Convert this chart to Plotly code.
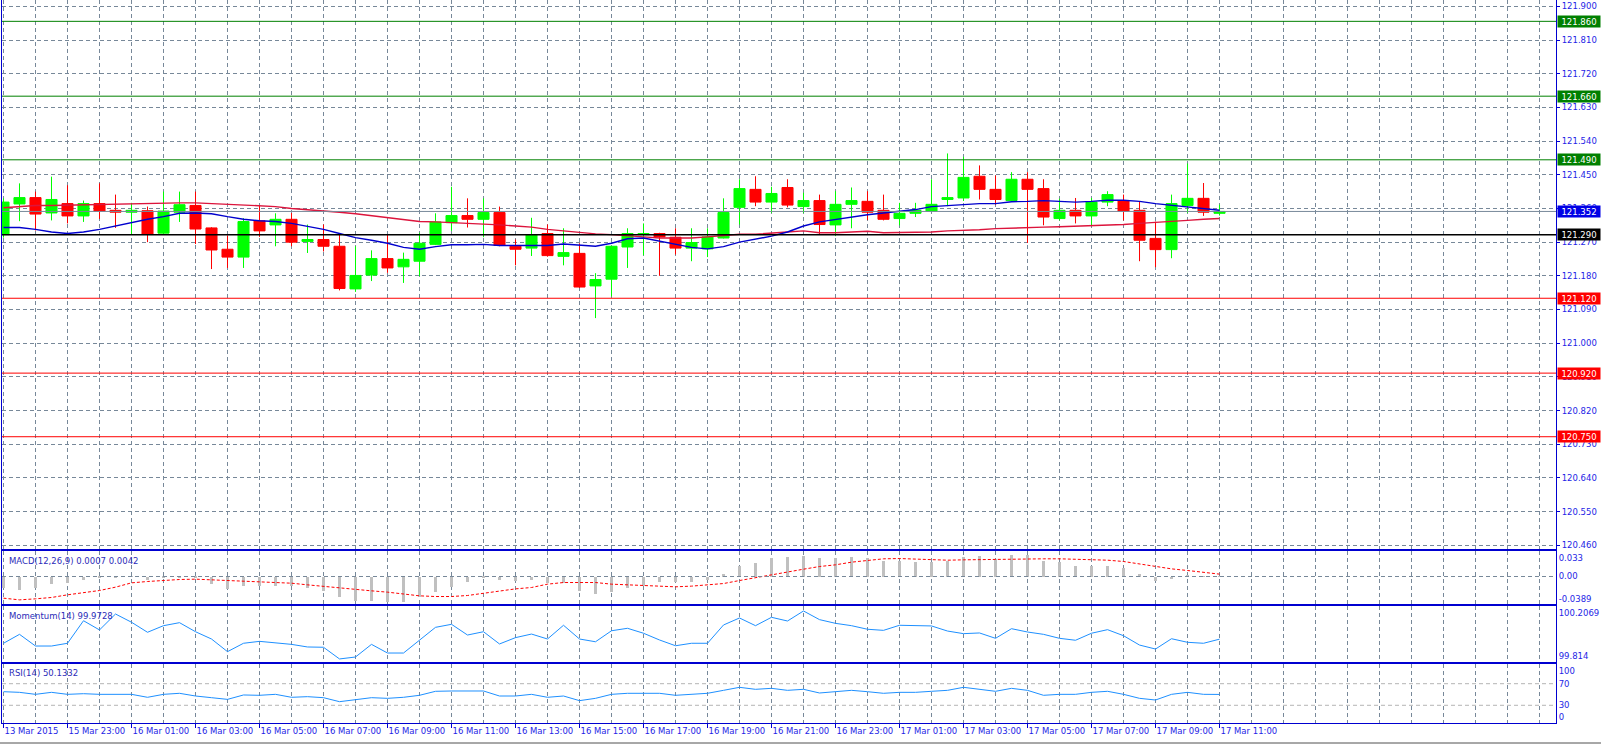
import plotly.graph_objects as go

# ---------------- data ----------------
bar_index = list(range(77))

opens = [121.290, 121.372, 121.389, 121.348, 121.373, 121.340, 121.373, 121.355, 121.350, 121.354,
         121.294, 121.350, 121.368, 121.308, 121.251, 121.230, 121.327, 121.316, 121.331, 121.272,
         121.277, 121.259, 121.145, 121.182, 121.226, 121.204, 121.219, 121.264, 121.322, 121.341,
         121.331, 121.349, 121.259, 121.254, 121.293, 121.232, 121.240, 121.153, 121.171, 121.257,
         121.290, 121.293, 121.283, 121.254, 121.252, 121.281, 121.363, 121.411, 121.377, 121.416,
         121.365, 121.381, 121.316, 121.371, 121.379, 121.355, 121.333, 121.347, 121.353, 121.384,
         121.388, 121.446, 121.411, 121.381, 121.438, 121.413, 121.333, 121.355, 121.340, 121.377,
         121.381, 121.355, 121.280, 121.250, 121.368, 121.387, 121.347]
highs = [121.387, 121.427, 121.405, 121.445, 121.422, 121.381, 121.427, 121.397, 121.375, 121.365,
         121.405, 121.405, 121.405, 121.310, 121.288, 121.334, 121.368, 121.347, 121.348, 121.317,
         121.317, 121.290, 121.259, 121.248, 121.290, 121.242, 121.295, 121.347, 121.418, 121.387,
         121.387, 121.365, 121.277, 121.335, 121.317, 121.307, 121.267, 121.187, 121.260, 121.307,
         121.320, 121.295, 121.307, 121.307, 121.307, 121.387, 121.438, 121.446, 121.418, 121.438,
         121.402, 121.397, 121.406, 121.416, 121.406, 121.397, 121.375, 121.375, 121.438, 121.507,
         121.498, 121.475, 121.448, 121.457, 121.457, 121.438, 121.386, 121.388, 121.388, 121.406,
         121.397, 121.379, 121.325, 121.397, 121.480, 121.428, 121.370]
lows = [121.282, 121.326, 121.301, 121.328, 121.320, 121.324, 121.332, 121.308, 121.290, 121.270,
        121.292, 121.324, 121.265, 121.198, 121.201, 121.201, 121.284, 121.259, 121.259, 121.241,
        121.245, 121.141, 121.137, 121.166, 121.188, 121.161, 121.179, 121.262, 121.300, 121.309,
        121.283, 121.259, 121.208, 121.233, 121.231, 121.208, 121.148, 121.067, 121.125, 121.201,
        121.235, 121.180, 121.237, 121.219, 121.230, 121.280, 121.317, 121.366, 121.348, 121.363,
        121.348, 121.291, 121.286, 121.307, 121.329, 121.328, 121.315, 121.337, 121.352, 121.366,
        121.380, 121.384, 121.370, 121.380, 121.268, 121.315, 121.328, 121.320, 121.315, 121.366,
        121.328, 121.219, 121.203, 121.227, 121.348, 121.340, 121.341]
closes = [121.377, 121.389, 121.345, 121.384, 121.340, 121.373, 121.353, 121.350, 121.355, 121.291,
          121.353, 121.370, 121.305, 121.249, 121.230, 121.325, 121.300, 121.331, 121.270, 121.277,
          121.259, 121.146, 121.181, 121.226, 121.201, 121.224, 121.267, 121.324, 121.341, 121.331,
          121.349, 121.261, 121.251, 121.289, 121.234, 121.242, 121.150, 121.170, 121.259, 121.293,
          121.293, 121.284, 121.254, 121.269, 121.284, 121.349, 121.413, 121.377, 121.400, 121.369,
          121.381, 121.317, 121.371, 121.381, 121.350, 121.331, 121.347, 121.355, 121.371, 121.389,
          121.443, 121.411, 121.384, 121.438, 121.411, 121.337, 121.355, 121.340, 121.377, 121.397,
          121.353, 121.275, 121.250, 121.373, 121.387, 121.350, 121.352]

ma_fast = [121.309, 121.309, 121.304, 121.297, 121.293, 121.297, 121.304, 121.313, 121.324, 121.331,
           121.338, 121.347, 121.348, 121.346, 121.338, 121.331, 121.327, 121.325, 121.320, 121.313,
           121.304, 121.293, 121.282, 121.275, 121.267, 121.256, 121.251, 121.258, 121.263, 121.263,
           121.264, 121.261, 121.261, 121.261, 121.261, 121.265, 121.261, 121.259, 121.267, 121.279,
           121.281, 121.273, 121.264, 121.256, 121.252, 121.258, 121.270, 121.277, 121.286, 121.297,
           121.313, 121.324, 121.331, 121.338, 121.343, 121.348, 121.353, 121.357, 121.365, 121.368,
           121.370, 121.373, 121.373, 121.378, 121.379, 121.381, 121.379, 121.377, 121.379, 121.382,
           121.382, 121.379, 121.373, 121.368, 121.364, 121.359, 121.355]
ma_slow = [121.362, 121.366, 121.368, 121.368, 121.369, 121.371, 121.371, 121.373, 121.374, 121.375,
           121.375, 121.375, 121.375, 121.373, 121.369, 121.367, 121.367, 121.365, 121.360, 121.357,
           121.354, 121.350, 121.346, 121.341, 121.335, 121.329, 121.325, 121.324, 121.322, 121.322,
           121.319, 121.316, 121.313, 121.310, 121.304, 121.300, 121.295, 121.292, 121.290, 121.288,
           121.284, 121.281, 121.281, 121.281, 121.284, 121.288, 121.291, 121.291, 121.293, 121.297,
           121.300, 121.295, 121.295, 121.297, 121.299, 121.295, 121.295, 121.295, 121.297, 121.300,
           121.301, 121.303, 121.306, 121.308, 121.309, 121.310, 121.311, 121.312, 121.314, 121.316,
           121.317, 121.320, 121.322, 121.325, 121.328, 121.331, 121.333]

macd_main = [-0.0200, -0.0235, -0.0194, -0.0129, -0.0106, -0.0059, -0.0029, -0.0012, -0.0006, -0.0059,
             -0.0024, -0.0012, -0.0018, -0.0129, -0.0218, -0.0176, -0.0176, -0.0165, -0.0176, -0.0206,
             -0.0253, -0.0353, -0.0429, -0.0429, -0.0453, -0.0441, -0.0370, -0.0276, -0.0188, -0.0100,
             -0.0029, -0.0065, -0.0076, -0.0065, -0.0118, -0.0112, -0.0253, -0.0306, -0.0270, -0.0200,
             -0.0159, -0.0094, -0.0094, -0.0100, -0.0065, 0.0041, 0.0188, 0.0235, 0.0323, 0.0341,
             0.0359, 0.0323, 0.0323, 0.0341, 0.0323, 0.0282, 0.0282, 0.0253, 0.0253, 0.0282,
             0.0341, 0.0359, 0.0306, 0.0376, 0.0376, 0.0282, 0.0253, 0.0182, 0.0182, 0.0182,
             0.0147, 0.0041, -0.0076, -0.0041, 0.0012, 0.0006, 0.0007]
macd_signal = [-0.0382, -0.0412, -0.0394, -0.0370, -0.0323, -0.0288, -0.0247, -0.0188, -0.0112, -0.0088,
               -0.0065, -0.0053, -0.0047, -0.0059, -0.0076, -0.0088, -0.0100, -0.0106, -0.0118, -0.0147,
               -0.0176, -0.0194, -0.0229, -0.0253, -0.0276, -0.0309, -0.0341, -0.0353, -0.0353, -0.0335,
               -0.0294, -0.0247, -0.0218, -0.0194, -0.0135, -0.0106, -0.0100, -0.0106, -0.0135, -0.0147,
               -0.0165, -0.0182, -0.0182, -0.0170, -0.0147, -0.0124, -0.0071, -0.0018, 0.0029, 0.0076,
               0.0129, 0.0176, 0.0206, 0.0253, 0.0282, 0.0312, 0.0317, 0.0306, 0.0300, 0.0288,
               0.0294, 0.0300, 0.0300, 0.0300, 0.0306, 0.0312, 0.0312, 0.0306, 0.0294, 0.0288,
               0.0265, 0.0223, 0.0176, 0.0135, 0.0106, 0.0076, 0.0042]

momentum = [99.943, 100.008, 99.923, 99.923, 99.943, 100.107, 100.040, 100.156, 100.096, 100.023,
            100.071, 100.093, 100.027, 99.974, 99.882, 99.943, 99.957, 99.947, 99.935, 99.916,
            99.914, 99.829, 99.843, 99.935, 99.872, 99.872, 99.965, 100.059, 100.081, 100.003,
            100.027, 99.938, 99.984, 100.010, 99.974, 100.074, 99.974, 99.954, 100.034, 100.052,
            100.016, 99.967, 99.925, 99.943, 99.943, 100.076, 100.127, 100.071, 100.132, 100.105,
            100.178, 100.115, 100.088, 100.071, 100.045, 100.037, 100.074, 100.069, 100.069, 100.032,
            100.013, 100.018, 99.979, 100.049, 100.025, 100.008, 99.979, 99.965, 100.016, 100.042,
            99.998, 99.930, 99.901, 99.976, 99.950, 99.943, 99.9728]

rsi = [55.2, 54.0, 50.3, 54.0, 50.3, 51.5, 50.3, 50.3, 50.3, 44.8,
       50.3, 52.2, 47.2, 44.1, 41.0, 49.1, 48.5, 50.3, 44.8, 46.0,
       44.1, 36.7, 39.8, 44.1, 42.9, 44.8, 48.5, 55.9, 56.5, 56.5,
       56.5, 47.2, 47.2, 50.3, 44.8, 47.2, 38.6, 42.9, 50.3, 52.2,
       52.2, 52.2, 48.5, 50.3, 52.2, 57.7, 63.3, 59.6, 61.4, 57.7,
       59.6, 52.8, 55.9, 57.7, 55.2, 52.2, 54.0, 54.0, 55.9, 57.7,
       63.3, 59.6, 55.9, 61.4, 57.7, 48.5, 50.3, 50.3, 54.0, 55.9,
       50.3, 42.9, 39.8, 50.3, 54.0, 50.3, 50.13]

time_tick_bars = [0, 4, 8, 12, 16, 20, 24, 28, 32, 36, 40, 44, 48, 52, 56, 60, 64, 68, 72, 76]
time_tick_labels = ["13 Mar 2015", "15 Mar 23:00", "16 Mar 01:00", "16 Mar 03:00", "16 Mar 05:00",
                    "16 Mar 07:00", "16 Mar 09:00", "16 Mar 11:00", "16 Mar 13:00", "16 Mar 15:00",
                    "16 Mar 17:00", "16 Mar 19:00", "16 Mar 21:00", "16 Mar 23:00", "17 Mar 01:00",
                    "17 Mar 03:00", "17 Mar 05:00", "17 Mar 07:00", "17 Mar 09:00", "17 Mar 11:00"]

price_ticks = [121.900, 121.810, 121.720, 121.630, 121.540, 121.450, 121.360, 121.270, 121.180,
               121.090, 121.000, 120.910, 120.820, 120.730, 120.640, 120.550, 120.460]

level_prices = [121.860, 121.660, 121.490, 121.352, 121.290, 121.120, 120.920, 120.750]
level_kinds = ["res", "res", "res", "bid", "pivot", "sup", "sup", "sup"]

macd_title = "MACD(12,26,9) 0.0007 0.0042"
mom_title = "Momentum(14) 99.9728"
rsi_title = "RSI(14) 50.1332"

# ---------------- styling / layout ----------------
W, H = 1601, 745
FONT = "DejaVu Sans"
FS = 8.5
FRAME = "#0000d0"
TXT = "#1e1ee6"
GRID = "#778899"
GDASH = "4px,3px"

def fy(px):
    return 1 - px / H

x_dom = [2 / W, 1556 / W]
x_rng = [-0.094, 97.03]

fig = go.Figure()

fig.add_trace(go.Candlestick(
    x=bar_index, open=opens, high=highs, low=lows, close=closes,
    xaxis="x", yaxis="y", whiskerwidth=0,
    increasing=dict(line=dict(color="#00ff00", width=1), fillcolor="#00ff00"),
    decreasing=dict(line=dict(color="#ff0000", width=1), fillcolor="#ff0000"),
    showlegend=False, hoverinfo="skip"))
fig.add_trace(go.Scatter(x=bar_index, y=ma_slow, mode="lines", xaxis="x", yaxis="y",
                         line=dict(color="#dc143c", width=1.4), showlegend=False, hoverinfo="skip"))
fig.add_trace(go.Scatter(x=bar_index, y=ma_fast, mode="lines", xaxis="x", yaxis="y",
                         line=dict(color="#0000cd", width=1.4), showlegend=False, hoverinfo="skip"))

fig.add_trace(go.Bar(x=bar_index, y=macd_main, width=0.14, xaxis="x2", yaxis="y2",
                     marker=dict(color="#c0c0c0", line=dict(width=0)), showlegend=False, hoverinfo="skip"))
fig.add_trace(go.Scatter(x=bar_index, y=macd_signal, mode="lines", xaxis="x2", yaxis="y2",
                         line=dict(color="#ff0000", width=1, dash="3px,2px"), showlegend=False, hoverinfo="skip"))

fig.add_trace(go.Scatter(x=bar_index, y=momentum, mode="lines", xaxis="x3", yaxis="y3",
                         line=dict(color="#1e90ff", width=1), showlegend=False, hoverinfo="skip"))
fig.add_trace(go.Scatter(x=bar_index, y=rsi, mode="lines", xaxis="x4", yaxis="y4",
                         line=dict(color="#1e90ff", width=1), showlegend=False, hoverinfo="skip"))

def xax(anchor, mirror, **kw):
    d = dict(domain=x_dom, range=x_rng, anchor=anchor, showgrid=True, gridcolor=GRID,
             griddash=GDASH, gridwidth=1, tickmode="linear", tick0=0, dtick=2,
             showticklabels=False, ticks="", zeroline=False, showline=True,
             linecolor=FRAME, linewidth=1, mirror=mirror, fixedrange=True, automargin=False)
    d.update(kw)
    return d

def yax(anchor, top_px, bot_px, rng, **kw):
    d = dict(domain=[fy(bot_px), fy(top_px)], range=rng, anchor=anchor, side="right",
             showgrid=False, zeroline=False, showline=True, linecolor=FRAME, linewidth=1,
             mirror=True, ticks="", tickfont=dict(family=FONT, size=FS, color=TXT),
             fixedrange=True, automargin=False)
    d.update(kw)
    return d

axis4 = xax("y4", True)
axis4.update(dict(tickmode="array", tickvals=time_tick_bars, ticktext=time_tick_labels,
                  showticklabels=True, ticks="outside", ticklen=4, tickcolor=FRAME,
                  ticklabelposition="outside right", tickangle=0,
                  tickfont=dict(family=FONT, size=FS, color=TXT),
                  minor=dict(tickmode="linear", tick0=0, dtick=2, showgrid=True,
                             gridcolor=GRID, griddash=GDASH, gridwidth=1, ticks="")))

fig.update_layout(
    width=W, height=H, margin=dict(l=0, r=0, t=0, b=0, autoexpand=False),
    paper_bgcolor="white", plot_bgcolor="white",
    boxgap=0.31, boxgroupgap=0, bargap=0,
    xaxis=xax("y", False, rangeslider=dict(visible=False)),
    xaxis2=xax("y2", True),
    xaxis3=xax("y3", True),
    xaxis4=axis4,
    yaxis=yax("x", 0, 549, [120.450, 121.917], tickmode="array", tickvals=price_ticks,
              ticktext=[f"{v:.3f}" for v in price_ticks], showgrid=True, gridcolor=GRID,
              griddash=GDASH, gridwidth=1, ticks="outside", ticklen=3, tickcolor=FRAME),
    yaxis2=yax("x2", 551, 604, [-0.0485, 0.0450], tickmode="array",
               tickvals=[0.033, 0.0, -0.0389], ticktext=["0.033", "0.00", "-0.0389"]),
    yaxis3=yax("x3", 606, 662, [99.8067, 100.2142], tickmode="array",
               tickvals=[100.163, 99.853], ticktext=["100.2069", "99.814"]),
    yaxis4=yax("x4", 664, 723, [-2.8, 106.5], tickmode="array",
               tickvals=[93.0, 70, 30, 8.9], ticktext=["100", "70", "30", "0"]),
)

# horizontal dashed guide lines in indicator panels
fig.add_shape(type="line", xref="x2 domain", yref="y2", x0=0, x1=1, y0=0, y1=0,
              line=dict(color=GRID, width=1, dash=GDASH))
for lv in (70, 30):
    fig.add_shape(type="line", xref="x4 domain", yref="y4", x0=0, x1=1, y0=lv, y1=lv,
                  line=dict(color="#b4b4b4", width=1, dash=GDASH))

# price levels with right-hand price boxes
kind_style = {
    "res": ("#008000", "#008000", 1),
    "sup": ("#ff0000", "#ff0000", 1),
    "bid": ("#778899", "#0000e6", 1),
    "pivot": ("#000000", "#000000", 1.5),
}
for p, kind in zip(level_prices, level_kinds):
    lc, bc, lw = kind_style[kind]
    fig.add_shape(type="line", xref="x domain", yref="y", x0=0, x1=1, y0=p, y1=p,
                  line=dict(color=lc, width=lw))
    fig.add_annotation(xref="paper", yref="y", x=1557 / W, y=p, xanchor="left", yanchor="middle",
                       text=f"{p:.3f}", showarrow=False, bgcolor=bc, borderpad=0,
                       width=42, height=11, align="center",
                       font=dict(family=FONT, size=FS, color="white"))

# indicator titles
for txt, ypx in ((macd_title, 560.5), (mom_title, 615.5), (rsi_title, 672.5)):
    fig.add_annotation(xref="paper", yref="paper", x=7 / W, y=fy(ypx), xanchor="left",
                       yanchor="middle", text=txt, showarrow=False,
                       font=dict(family=FONT, size=FS, color="#2b2bb8"))

# bottom window edge
fig.add_shape(type="line", xref="paper", yref="paper", x0=0, x1=1, y0=fy(743), y1=fy(743),
              line=dict(color="#505050", width=1))

fig.write_html("out.html")
